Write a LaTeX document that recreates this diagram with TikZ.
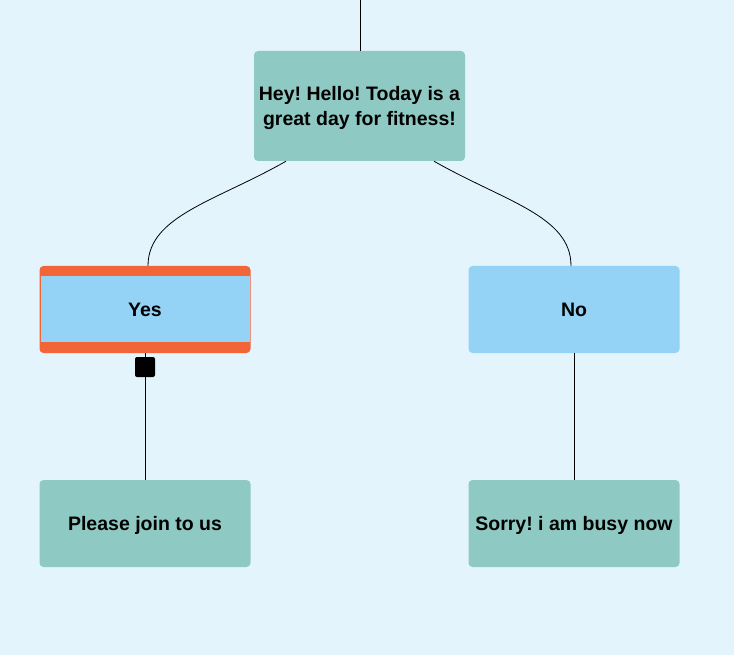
\documentclass[tikz,border=0pt]{standalone}
\usepackage{fontspec}
\setmainfont{Liberation Sans}
\frenchspacing
\definecolor{bgblue}{HTML}{E4F4FC}
\definecolor{boxteal}{HTML}{8FC9C3}
\definecolor{boxblue}{HTML}{94D3F5}
\definecolor{markorange}{HTML}{F26539}
\begin{document}
\begin{tikzpicture}[x=1pt,y=-1pt,
    box/.style={rectangle, rounded corners=4pt, minimum width=211pt, minimum height=87pt,
      inner sep=0pt, align=center, font=\fontsize{19.5}{25}\selectfont\bfseries},
    tealbox/.style={box, fill=boxteal, text depth=0pt},
    bluebox/.style={box, fill=boxblue},
    pickedbox/.style={box, fill=markorange,
      path picture={\fill[boxblue, sharp corners] ([shift={(1pt,-10pt)}]path picture bounding box.north west)
        rectangle ([shift={(-1pt,11pt)}]path picture bounding box.south east);}},
    handle/.style={rectangle, fill=black, rounded corners=2pt, minimum size=20pt, inner sep=0pt},
    link/.style={black, line width=0.8pt}]
        % draw background
        \fill[bgblue] (0,0) rectangle (734,655);
        \useasboundingbox (0,0) rectangle (734,655);

        % draw nodes
        \coordinate (in) at (360,0);
        \node[tealbox, minimum height=110pt] (hello) at (359.5,106) {Hey! Hello! Today is a\\great day for fitness!};
        \node[pickedbox] (yes) at (145,309.5) {Yes};
        \node[bluebox] (no) at (574,309.5) {No};
        \node[handle] (grip) at (145,367) {};
        \node[tealbox] (join) at (145,523.5) {Please join to us};
        \node[tealbox] (busy) at (574,523.5) {Sorry! i am busy now};

        % draw lines
        \draw[link] (in) -- (in |- hello.north);
        \draw[link] ([xshift=-73.5pt]hello.south) .. controls +(-70,40) and +(0,-50) .. ([xshift=3pt]yes.north);
        \draw[link] ([xshift=74.5pt]hello.south) .. controls +(70,40) and +(0,-50) .. ([xshift=-3pt]no.north);
        \draw[link] (yes.south) -- (grip.north);
        \draw[link] (grip.south) -- (join.north);
        \draw[link] (no.south) -- (busy.north);
\end{tikzpicture}
\end{document}
